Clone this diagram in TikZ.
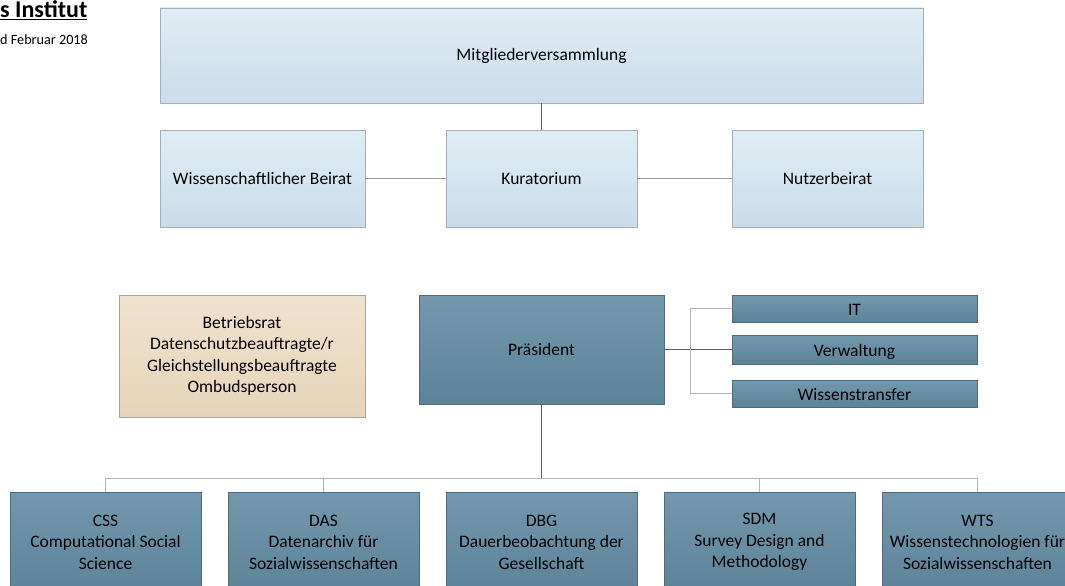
\documentclass[tikz,border=0pt]{standalone}
\usepackage{fontspec}
\setmainfont{Carlito}
\definecolor{lbtop}{HTML}{E1ECF3}
\definecolor{lbbot}{HTML}{CADDE9}
\definecolor{lbdraw}{HTML}{A3AFB8}
\definecolor{dbtop}{HTML}{7398AE}
\definecolor{dbbot}{HTML}{5D8399}
\definecolor{dbdraw}{HTML}{4D6B7D}
\definecolor{bgtop}{HTML}{EFE2CD}
\definecolor{bgbot}{HTML}{E6D5BA}
\definecolor{bgdraw}{HTML}{A8A29A}
\definecolor{lineA}{HTML}{9A9A9A}
\definecolor{lineB}{HTML}{5E5E5E}
\definecolor{lineC}{HTML}{B4B4B4}
\begin{document}
\begin{tikzpicture}[x=1pt,y=-1pt,
  box/.style={rectangle, inner sep=0pt, line width=0.8pt, align=center,
    font=\fontsize{17.5}{21.4}\selectfont, text=black},
  lightbox/.style={box, draw=lbdraw, top color=lbtop, bottom color=lbbot},
  darkbox/.style={box, draw=dbdraw, top color=dbtop, bottom color=dbbot},
  slimbox/.style={darkbox, minimum width=245, text height=14.5pt, text depth=1pt},
  beigebox/.style={box, draw=bgdraw, top color=bgtop, bottom color=bgbot},
  linkA/.style={draw=lineA, line width=0.8pt},
  linkB/.style={draw=lineB, line width=0.8pt},
  linkC/.style={draw=lineC, line width=0.8pt}]
\useasboundingbox (0,0) rectangle (1065,586);
\clip (0,0) rectangle (1065,586);
\fill[white] (0,0) rectangle (1065,586);

% title fragments
\node[anchor=base west, inner sep=0pt, font=\fontsize{24}{28}\selectfont\bfseries] (title) at (0,18) {\underline{s Institut}};
\node[anchor=base west, inner sep=0pt, font=\fontsize{14.2}{17}\selectfont] (date) at (0,45) {d Februar 2018};

% top
\node[lightbox, minimum width=763, minimum height=95] (M) at (541.5,55.5) {Mitgliederversammlung};
\node[lightbox, minimum width=205, minimum height=97] (WB) at (262.5,178.5) {Wissenschaftlicher Beirat};
\node[lightbox, minimum width=191, minimum height=97] (K) at (541.5,178.5) {Kuratorium};
\node[lightbox, minimum width=191, minimum height=97] (N) at (827.5,178.5) {Nutzerbeirat};

% middle
\node[beigebox, minimum width=246, minimum height=122] (BR) at (242,356)
  {Betriebsrat\\Datenschutzbeauftragte/r\\Gleichstellungsbeauftragte\\Ombudsperson};
\node[darkbox, minimum width=245, minimum height=109] (P) at (541.5,349.5) {Präsident};
\node[slimbox, minimum height=27] (IT) at (854.5,308.5) {IT};
\node[slimbox, minimum height=29] (VW) at (854.5,349.5) {Verwaltung};
\node[slimbox, minimum height=27] (WT) at (854.5,393.5) {Wissenstransfer};

% bottom
\node[darkbox, minimum width=191, minimum height=100] (CSS) at (105.5,542) {CSS\\Computational Social\\Science};
\node[darkbox, minimum width=191, minimum height=100] (DAS) at (323.5,542) {DAS\\Datenarchiv für\\Sozialwissenschaften};
\node[darkbox, minimum width=191, minimum height=100] (DBG) at (541.5,542) {DBG\\Dauerbeobachtung der\\Gesellschaft};
\node[darkbox, minimum width=191, minimum height=100] (SDM) at (759.5,542) {SDM\\Survey Design and\\Methodology};
\node[darkbox, minimum width=191, minimum height=100] (WTS) at (977.5,542) {WTS\\Wissenstechnologien für\\Sozialwissenschaften};

% connectors
\draw[linkB] (M.south) -- (K.north);
\draw[linkA] (WB.east) -- (K.west);
\draw[linkA] (K.east) -- (N.west);
\draw[linkB] (P.east) -- (VW.west);
\draw[linkC] (IT.west) -- ++(-41,0) |- (WT.west);
\coordinate (hub) at (541.5,479);
\draw[linkB] (P.south) -- (hub);
\draw[linkC] (CSS.north) -- ++(0,-13) -| (WTS.north);
\draw[linkC] (DAS.north) -- ++(0,-13);
\draw[linkC] (SDM.north) -- ++(0,-13);
\end{tikzpicture}
\end{document}
